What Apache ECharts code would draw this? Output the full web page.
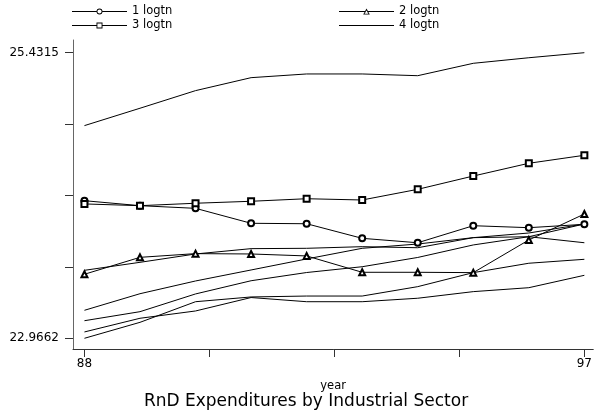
<!DOCTYPE html>
<html><head><meta charset="utf-8">
<script src="https://cdn.jsdelivr.net/npm/echarts@6/dist/echarts.min.js"></script>
<style>html,body{margin:0;padding:0;background:#fff}#c{width:595px;height:410px}</style>
</head><body><div id="c"></div>
<script>
const years = [88, 89, 90, 91, 92, 93, 94, 95, 96, 97];
const s1 = [24.154, 24.111, 24.088, 23.959, 23.955, 23.829, 23.791, 23.938, 23.921, 23.950];
const s2 = [23.519, 23.665, 23.697, 23.694, 23.677, 23.536, 23.536, 23.533, 23.815, 24.039];
const s3 = [24.126, 24.111, 24.132, 24.149, 24.171, 24.160, 24.252, 24.367, 24.477, 24.546];
const s4 = [24.802, 24.952, 25.104, 25.216, 25.248, 25.248, 25.233, 25.340, 25.388, 25.4315];
const s5 = [23.553, 23.622, 23.694, 23.740, 23.743, 23.757, 23.748, 23.835, 23.843, 23.791];
const s6 = [23.208, 23.351, 23.461, 23.556, 23.651, 23.743, 23.780, 23.835, 23.875, 23.953];
const s7 = [23.118, 23.196, 23.349, 23.463, 23.534, 23.584, 23.664, 23.772, 23.843, 23.953];
const s8 = [23.021, 23.139, 23.202, 23.318, 23.282, 23.282, 23.312, 23.369, 23.403, 23.510];
const s9 = [22.9662, 23.104, 23.282, 23.323, 23.331, 23.331, 23.412, 23.533, 23.614, 23.648];
const seriesNames = ['1 logtn', '2 logtn', '3 logtn', '4 logtn', '5 logtn', '6 logtn', '7 logtn', '8 logtn', '9 logtn'];
const seriesSymbols = ['emptyCircle', 'emptyTriangle', 'emptyRect', 'none', 'none', 'none', 'none', 'none', 'none'];
const xTickValues = [88, 90.25, 92.5, 94.75, 97];
const xLabelValues = [88, 97];
const yTickValues = [22.9662, 23.582525, 24.19885, 24.815175, 25.4315];
const yLabelValues = [22.9662, 25.4315];
const yLabelTexts = ['22.9662', '25.4315'];
const titleText = 'RnD Expenditures by Industrial Sector';
const xName = 'year';

const allSeries = [s1, s2, s3, s4, s5, s6, s7, s8, s9];
const FONT = 'DejaVu Sans';

// legend icons: thin line with a hollow marker (ring shapes built with opposite winding)
const BAR_L = 'M0,2.5H24.5V3.5H0Z';
const BAR_R = 'M30.5,2.5H55V3.5H30.5Z';
const legendIcons = {
  '1 logtn': 'path://' + BAR_L + BAR_R +
    'M24.5,3A3,3 0 1,0 30.5,3A3,3 0 1,0 24.5,3Z' +
    'M25.4,3A2.1,2.1 0 1,1 29.6,3A2.1,2.1 0 1,1 25.4,3Z',
  '3 logtn': 'path://' + BAR_L + BAR_R +
    'M24.5,0H30.5V6H24.5Z' +
    'M25.4,0.9V5.1H29.6V0.9Z',
  '2 logtn': 'path://M0,2.5H25.9V3.5H0Z' + 'M29.1,2.5H55V3.5H29.1Z' +
    'M27.5,0L30.8,6L24.2,6Z' +
    'M27.5,1.9L25.6,5.2L29.4,5.2Z',
  '4 logtn': 'path://M0,2.5H55V3.5H0Z'
};

const chart = echarts.init(document.getElementById('c'), null, {renderer: 'canvas'});
const series = allSeries.map((vals, i) => ({
  name: seriesNames[i],
  type: 'line',
  data: years.map((y, j) => [y, vals[j]]),
  symbol: seriesSymbols[i],
  symbolSize: 6,
  showSymbol: seriesSymbols[i] !== 'none',
  lineStyle: {color: '#000', width: 1},
  itemStyle: {color: '#000', borderColor: '#000', borderWidth: 1},
  emphasis: {disabled: true},
  z: seriesSymbols[i] !== 'none' ? 3 : 2,
  animation: false
}));

const legendCommon = {
  orient: 'vertical',
  top: 5.5,
  padding: 0,
  itemWidth: 55,
  itemHeight: 7,
  itemGap: 2,
  symbolKeepAspect: true,
  itemStyle: {borderWidth: 0, color: '#000'},
  textStyle: {fontFamily: FONT, fontSize: 11.5, color: '#000', lineHeight: 12},
  selectedMode: false
};
const legendItem = name => ({name: name, icon: legendIcons[name], itemStyle: {borderWidth: 0, color: '#000'}});

chart.setOption({
  animation: false,
  backgroundColor: '#fff',
  title: {
    text: titleText,
    left: 301,
    top: 388,
    textAlign: 'center',
    textStyle: {fontFamily: FONT, fontSize: 17, fontWeight: 'normal', color: '#000'}
  },
  legend: [
    Object.assign({}, legendCommon, {left: 72, data: [legendItem(seriesNames[0]), legendItem(seriesNames[2])]}),
    Object.assign({}, legendCommon, {left: 339, data: [legendItem(seriesNames[1]), legendItem(seriesNames[3])]})
  ],
  grid: {left: 73, right: 0, top: 40, bottom: 61, containLabel: false},
  xAxis: {
    type: 'value',
    min: 87.794,
    max: 97.16,
    name: xName,
    nameLocation: 'middle',
    nameGap: 31,
    nameTextStyle: {fontFamily: FONT, fontSize: 11.5, color: '#000'},
    axisLine: {show: true, onZero: false, lineStyle: {color: '#333', width: 1}},
    axisTick: {show: true, length: 8, customValues: xTickValues, lineStyle: {color: '#333'}},
    axisLabel: {show: true, customValues: xLabelValues, margin: 9, fontFamily: FONT, fontSize: 12, color: '#000',
      formatter: v => String(Math.round(v))},
    splitLine: {show: false}
  },
  yAxis: {
    type: 'value',
    min: 22.8738,
    max: 25.5411,
    axisLine: {show: true, onZero: false, lineStyle: {color: '#666', width: 1}},
    axisTick: {show: true, length: 8, customValues: yTickValues, lineStyle: {color: '#333'}},
    axisLabel: {show: true, customValues: yLabelValues, margin: 14, fontFamily: FONT, fontSize: 12, color: '#000',
      formatter: v => {
        let best = 0;
        yLabelValues.forEach((lv, k) => { if (Math.abs(lv - v) < Math.abs(yLabelValues[best] - v)) best = k; });
        return yLabelTexts[best];
      }},
    splitLine: {show: false}
  },
  series: series
});
</script>
</body></html>
